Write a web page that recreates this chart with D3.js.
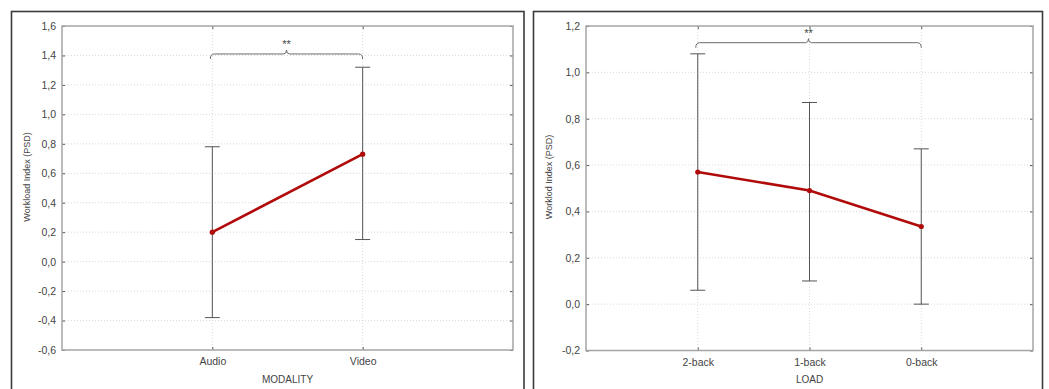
<!DOCTYPE html>
<html>
<head>
<meta charset="utf-8">
<script src="https://cdn.jsdelivr.net/npm/d3@7"></script>
<style>
  html, body { margin: 0; padding: 0; background: #fff; }
  svg { display: block; font-family: "Liberation Sans", Arial, sans-serif; }
</style>
</head>
<body>
<svg id="chart" width="1049" height="389"></svg>
<script>
// Modality panel
const modalityCats = ["Audio", "Video"];
const modalityMean = [0.20, 0.73];
const modalityLow = [-0.38, 0.15];
const modalityHigh = [0.78, 1.32];
const modalityTicks = [-0.6, -0.4, -0.2, 0.0, 0.2, 0.4, 0.6, 0.8, 1.0, 1.2, 1.4, 1.6];

// Load panel
const loadCats = ["2-back", "1-back", "0-back"];
const loadMean = [0.57, 0.49, 0.335];
const loadLow = [0.06, 0.10, 0.00];
const loadHigh = [1.08, 0.87, 0.67];
const loadTicks = [-0.2, 0.0, 0.2, 0.4, 0.6, 0.8, 1.0, 1.2];

const svg = d3.select("#chart");
const fmt = v => d3.format(".1f")(v).replace(".", ",").replace("−", "-");

function panel(cfg) {
  const g = svg.append("g");
  // outer frame
  g.append("rect")
    .attr("x", cfg.frame[0]).attr("y", cfg.frame[1])
    .attr("width", cfg.frame[2]).attr("height", cfg.frame[3])
    .attr("fill", "none").attr("stroke", "#3a3a3a").attr("stroke-width", 1.6);

  const [x0, y0, x1, y1] = cfg.plot;
  const x = d3.scalePoint().domain(cfg.cats).range([x0, x1]).padding(1);
  const y = d3.scaleLinear().domain([cfg.ticks[0], cfg.ticks[cfg.ticks.length - 1]]).range([y1, y0]);

  // grid
  const grid = g.append("g").attr("stroke", "#cfcfcf").attr("stroke-width", 0.8).attr("stroke-dasharray", "1,2");
  grid.selectAll("line.h").data(cfg.ticks.slice(1, -1)).join("line")
    .attr("x1", x0).attr("x2", x1).attr("y1", d => y(d)).attr("y2", d => y(d));
  grid.selectAll("line.v").data(cfg.cats).join("line")
    .attr("y1", y0).attr("y2", y1).attr("x1", d => x(d)).attr("x2", d => x(d));

  // axes
  const axStyle = a => {
    a.selectAll("path").remove();
    a.selectAll("line").attr("stroke", "#555");
    a.selectAll("text").attr("fill", "#444").attr("font-size", "10.5px");
  };
  g.append("g").attr("transform", `translate(${x0},0)`)
    .call(d3.axisLeft(y).tickValues(cfg.ticks).tickFormat(fmt).tickSizeInner(-3).tickPadding(6))
    .call(axStyle);
  g.append("g").attr("transform", `translate(${x1},0)`)
    .call(d3.axisRight(y).tickValues(cfg.ticks).tickFormat("").tickSizeInner(-3))
    .call(axStyle);
  g.append("g").attr("transform", `translate(0,${y1})`)
    .call(d3.axisBottom(x).tickSizeInner(-3).tickPadding(8))
    .call(axStyle);
  g.append("g").attr("transform", `translate(0,${y0})`)
    .call(d3.axisTop(x).tickFormat("").tickSizeInner(-3))
    .call(axStyle);

  // plot border
  g.append("rect").attr("x", x0).attr("y", y0).attr("width", x1 - x0).attr("height", y1 - y0)
    .attr("fill", "none").attr("stroke", "#a5a5a5").attr("stroke-width", 1.5);

  // axis titles
  g.append("text").attr("x", (x0 + x1) / 2).attr("y", 383)
    .attr("text-anchor", "middle").attr("font-size", "10px").attr("fill", "#444").text(cfg.xTitle);
  g.append("text")
    .attr("transform", `translate(${cfg.yTitleX},${cfg.yTitleY}) rotate(-90)`)
    .attr("text-anchor", "middle").attr("font-size", "9px").attr("fill", "#444").text(cfg.yTitle);

  // error bars
  const rows = cfg.cats.map((c, i) => ({c, m: cfg.mean[i], lo: cfg.low[i], hi: cfg.high[i]}));
  const eb = g.append("g").attr("stroke", "#555").attr("stroke-width", 1);
  eb.selectAll("line.s").data(rows).join("line")
    .attr("x1", d => x(d.c)).attr("x2", d => x(d.c)).attr("y1", d => y(d.lo)).attr("y2", d => y(d.hi));
  eb.selectAll("line.t").data(rows).join("line")
    .attr("x1", d => x(d.c) - 7.5).attr("x2", d => x(d.c) + 7.5).attr("y1", d => y(d.hi)).attr("y2", d => y(d.hi));
  eb.selectAll("line.b").data(rows).join("line")
    .attr("x1", d => x(d.c) - 7.5).attr("x2", d => x(d.c) + 7.5).attr("y1", d => y(d.lo)).attr("y2", d => y(d.lo));

  // mean line
  g.append("path").datum(rows)
    .attr("d", d3.line().x(d => x(d.c)).y(d => y(d.m)))
    .attr("fill", "none").attr("stroke", "#b00a0a").attr("stroke-width", 2.6);
  g.selectAll("circle.m").data(rows).join("circle")
    .attr("cx", d => x(d.c)).attr("cy", d => y(d.m)).attr("r", 2.6).attr("fill", "#b00a0a");

  // significance bracket
  const bx0 = x(cfg.cats[0]) - 2, bx1 = x(cfg.cats[cfg.cats.length - 1]), by = y(cfg.bracket);
  const mid = (bx0 + bx1) / 2;
  g.append("path")
    .attr("d", `M${bx0},${by + 5} Q${bx0},${by} ${bx0 + 4},${by} L${mid - 3},${by} Q${mid},${by} ${mid},${by - 4} Q${mid},${by} ${mid + 3},${by} L${bx1 - 4},${by} Q${bx1},${by} ${bx1},${by + 5}`)
    .attr("fill", "none").attr("stroke", "#6a6a6a").attr("stroke-width", 1);
  g.append("text").attr("x", mid).attr("y", by - 6).attr("text-anchor", "middle")
    .attr("font-size", "11px").attr("fill", "#444").text("**");
}

panel({
  frame: [11.5, 11.5, 512.5, 390],
  plot: [62, 26, 513, 350],
  cats: modalityCats, mean: modalityMean, low: modalityLow, high: modalityHigh,
  ticks: modalityTicks, bracket: 1.41,
  xTitle: "MODALITY", yTitle: "Workload Index (PSD)", yTitleX: 30, yTitleY: 177
});

panel({
  frame: [533.5, 11.5, 509, 390],
  plot: [586, 26, 1033, 350.5],
  cats: loadCats, mean: loadMean, low: loadLow, high: loadHigh,
  ticks: loadTicks, bracket: 1.128,
  xTitle: "LOAD", yTitle: "Worklod Index (PSD)", yTitleX: 552, yTitleY: 177
});
</script>
</body>
</html>
